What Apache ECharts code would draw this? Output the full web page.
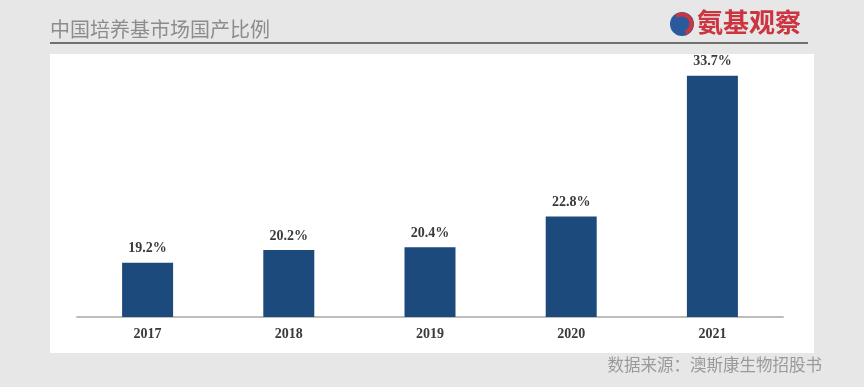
<!DOCTYPE html>
<html><head><meta charset="utf-8">
<script src="https://cdn.jsdelivr.net/npm/echarts@6/dist/echarts.min.js"></script>
<style>html,body{margin:0;padding:0;background:#e7e7e7;}#c{width:864px;height:387px;}</style>
</head><body><div id="c"></div>
<script>
const categories = ['2017','2018','2019','2020','2021'];
const values = [19.2, 20.2, 20.4, 22.8, 33.7];
const titleText = '中国培养基市场国产比例';
const sourceText = '数据来源：澳斯康生物招股书';
const logoText = '氨基观察';

const chart = echarts.init(document.getElementById('c'));
chart.setOption({
  backgroundColor: '#e7e7e7',
  animation: false,
  graphic: [
    {type:'rect', shape:{x:50,y:54,width:764,height:299}, style:{fill:'#ffffff'}, z:-10},
    {type:'text', left:50, top:19, style:{text:titleText, fill:'#8c8c8c', font:'20px "Noto Sans CJK SC"'}},
    {type:'line', shape:{x1:50,y1:43,x2:808,y2:43}, style:{stroke:'#707070', lineWidth:2}},
    {type:'circle', shape:{cx:682,cy:24,r:12}, style:{fill:'#2a5a9c'}},
    {type:'arc', shape:{cx:682,cy:24,r:9.5,startAngle:-2.2,endAngle:1.2}, style:{stroke:'#d0343c', lineWidth:4, fill:null}},
    {type:'text', left:697, top:9, style:{text:logoText, fill:'#cc3440', font:'bold 26px "Noto Sans CJK SC"'}},
    {type:'text', right:42, top:356, style:{text:sourceText, fill:'#9a9a9a', font:'16.5px "Noto Sans CJK SC"'}}
  ],
  grid: {left:77, right:81, top:59, bottom:70},
  xAxis: {
    type:'category', data:categories,
    axisLine:{lineStyle:{color:'#bdbdbd', width:2}},
    axisTick:{show:false},
    axisLabel:{color:'#3a3a3a', fontFamily:'Liberation Serif', fontWeight:'bold', fontSize:14, margin:10}
  },
  yAxis: {type:'value', min:15, max:35, show:false, splitLine:{show:false}},
  series: [{
    type:'bar', data:values, barWidth:51,
    itemStyle:{color:'#1c4a7c'},
    label:{show:true, position:'top', distance:7, formatter:p=>p.value.toFixed(1)+'%', color:'#3a3a3a', fontFamily:'Liberation Serif', fontWeight:'bold', fontSize:14}
  }]
});
</script></body></html>
